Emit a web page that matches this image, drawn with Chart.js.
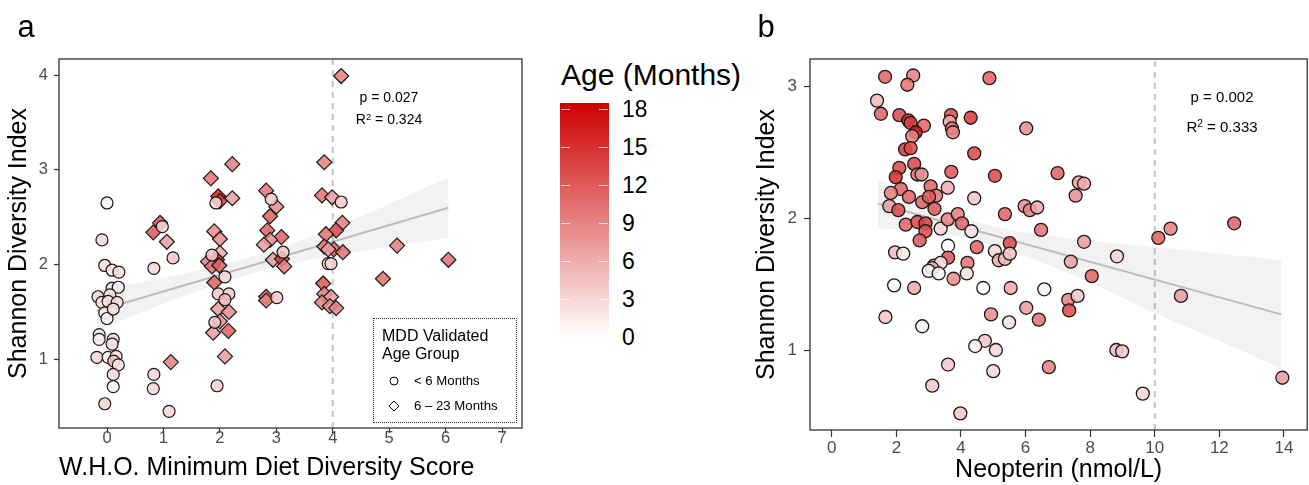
<!DOCTYPE html>
<html>
<head>
<meta charset="utf-8">
<script src="https://cdn.jsdelivr.net/npm/chart.js@4.4.1/dist/chart.umd.min.js"></script>
<style>
html, body { margin: 0; padding: 0; width: 1309px; height: 485px; overflow: hidden; background: #fff; }
body { position: relative; font-family: "Liberation Sans", Arial, Helvetica, sans-serif; color: #000; }
canvas { position: absolute; top: 0; }
#chartA { left: 0; }
#chartB { left: 750px; }
.t { position: absolute; white-space: nowrap; line-height: 1; }
.c { transform: translate(-50%, -50%); }
.l { transform: translate(0, -50%); }
.panel { font-size: 31px; }
.stat sup { font-size: 0.68em; vertical-align: 0.4em; line-height: 0; }
#mddBox { position: absolute; left: 373px; top: 318px; width: 142px; height: 103px; border: 1px dotted #333; }
#cbar { position: absolute; left: 560px; top: 103px; width: 49px; height: 234px; }
.cbtick { position: absolute; width: 9px; height: 1px; background: rgba(255,255,255,0.75); }
</style>
</head>
<body>
<canvas id="chartA" width="540" height="485"></canvas>
<canvas id="chartB" width="565" height="485"></canvas>

<div class="t c panel" style="left:26px;top:26px;">a</div>
<div class="t c panel" style="left:766px;top:26px;">b</div>

<div class="t c stat" style="left:389px;top:97px;font-size:14px;">p = 0.027</div>
<div class="t c stat" style="left:389px;top:119px;font-size:14px;">R<sup>2</sup> = 0.324</div>
<div class="t c stat" style="left:1222px;top:96px;font-size:15px;">p = 0.002</div>
<div class="t c stat" style="left:1222px;top:126px;font-size:15px;">R<sup>2</sup> = 0.333</div>

<div id="mddBox"></div>
<div class="t l" style="left:382px;top:336px;font-size:16px;">MDD Validated</div>
<div class="t l" style="left:382px;top:354px;font-size:16px;">Age Group</div>
<svg class="t" style="left:388px;top:375px;" width="12" height="12"><circle cx="6" cy="6" r="4" fill="#fff" stroke="#000" stroke-width="1"/></svg>
<div class="t l" style="left:414px;top:381px;font-size:13.2px;">&lt; 6 Months</div>
<svg class="t" style="left:388px;top:400px;" width="12" height="12"><polygon points="6,1 11,6 6,11 1,6" fill="#fff" stroke="#000" stroke-width="1"/></svg>
<div class="t l" style="left:414px;top:406px;font-size:13.2px;">6 &ndash; 23 Months</div>

<div class="t l" style="left:561px;top:75px;font-size:30px;">Age (Months)</div>
<div id="cbar"></div>

<script>
var FONT = '"Liberation Sans", Arial, Helvetica, sans-serif';

// age colour scale (white -> red3)
var ageMax = 18.5;
var ageTopRGB = [205, 0, 0];
var cbarTicks = [0, 3, 6, 9, 12, 15, 18];

// panel a: MDD score vs Shannon, < 6 months (circles)
var mddCircX = [0.00, -0.09, -0.04, 0.09, 0.21, -0.16, 0.09, 0.20, 0.05, -0.09, 0.02, 0.18, -0.04, 0.00, 0.11, -0.14, -0.14, 0.11, 0.09, -0.18, 0.02, 0.16, 0.12, 0.20, 0.11, 0.11, -0.04,
	0.98, 1.17, 0.83, 0.83, 0.82, 1.10,
	1.93, 1.86, 2.09, 1.97, 2.16, 2.09, 1.91, 1.95,
	2.91, 3.12, 3.01,
	4.15, 3.92, 3.97];
var mddCircY = [2.65, 2.26, 1.99, 1.94, 1.92, 1.66, 1.75, 1.76, 1.68, 1.60, 1.61, 1.60, 1.49, 1.43, 1.53, 1.26, 1.21, 1.21, 1.16, 1.02, 1.02, 1.03, 0.98, 0.94, 0.84, 0.71, 0.53,
	2.40, 2.07, 1.96, 0.84, 0.69, 0.45,
	2.65, 2.10, 1.87, 1.69, 1.69, 1.63, 1.39, 0.72,
	2.69, 2.13, 1.65,
	2.66, 2.01, 2.01];
var mddCircAge = [1, 3, 2, 2, 2, 3, 2, 1, 2, 2, 2, 3, 1, 1, 2, 2, 1, 3, 2, 3, 1, 2, 5, 2, 3, 1, 3,
	3, 4, 3, 3, 3, 3,
	3, 4, 3, 4, 4, 5, 4, 3,
	4, 4, 4,
	4, 3, 3];

// panel a: 6 - 23 months (diamonds)
var mddDiaX = [0.94, 0.82, 1.06, 1.13,
	2.22, 1.84, 1.97, 2.00, 2.22, 1.90, 2.00, 2.00, 1.79, 1.95, 1.86, 1.99, 1.90, 1.97, 2.16, 2.00, 1.88, 2.15, 2.09,
	2.82, 3.00, 2.89, 2.84, 3.09, 2.89, 2.78, 2.94, 3.10, 3.14, 2.82, 2.82,
	4.15, 3.85, 3.81, 3.99, 4.17, 4.06, 3.88, 3.85, 4.02, 4.18, 3.92, 3.83, 3.85, 3.97, 3.81, 3.95, 4.06,
	5.14, 4.89, 6.05];
var mddDiaY = [2.44, 2.34, 2.24, 0.97,
	3.06, 2.91, 2.72, 2.67, 2.70, 2.35, 2.27, 2.12, 2.03, 2.05, 1.98, 1.99, 1.81, 1.53, 1.50, 1.40, 1.28, 1.30, 1.03,
	2.78, 2.61, 2.51, 2.36, 2.29, 2.26, 2.21, 2.05, 2.06, 1.98, 1.66, 1.62,
	3.99, 3.08, 2.73, 2.71, 2.44, 2.36, 2.32, 2.19, 2.16, 2.13, 2.16, 1.80, 1.69, 1.66, 1.60, 1.56, 1.54,
	2.20, 1.85, 2.05];
var mddDiaAge = [12, 12, 7, 9,
	9, 10, 16, 14, 7, 8, 8, 6, 9, 14, 10, 11, 11, 7, 8, 8, 7, 11, 7,
	10, 8, 11, 11, 11, 8, 7, 7, 14, 9, 11, 9,
	9, 9, 10, 7, 9, 13, 10, 10, 11, 10, 7, 12, 9, 7, 9, 8, 9,
	9, 10, 10];

// panel a: fit + confidence band
var fitAX = [-0.18, 6.05];
var fitAY = [1.51, 2.60];
var bandAX = [-0.18, 0.6, 1.5, 2.6, 3.6, 4.7, 6.05];
var bandALo = [1.29, 1.49, 1.70, 1.91, 2.05, 2.16, 2.28];
var bandAHi = [1.73, 1.81, 1.92, 2.09, 2.29, 2.56, 2.92];
var cutA = 4;
var xTicksA = [0, 1, 2, 3, 4, 5, 6, 7];
var yTicksA = [1, 2, 3, 4];

// panel b: neopterin vs Shannon
var neoX = [1.65, 2.52, 2.34, 4.88, 1.40, 1.52, 2.09, 2.37, 2.44, 2.85,
	2.60, 2.49, 3.69, 3.65, 3.72, 3.75, 4.30, 6.02, 2.27, 2.44,
	4.41, 2.55, 2.09, 1.98, 2.65, 2.78, 3.70, 5.05, 2.14, 1.83,
	2.39, 3.06, 3.59, 3.23, 2.80, 3.01, 4.41, 1.78, 2.06, 3.18,
	5.97, 6.13, 6.36, 5.36, 2.29, 2.65, 2.90, 2.90, 2.72, 3.37,
	3.59, 3.90, 4.03, 4.32, 6.48, 3.60, 4.49, 5.51, 1.96, 2.21,
	5.05, 5.17, 5.36, 5.51, 3.60, 7.55, 7.65, 7.81, 6.99, 7.81,
	10.11, 10.49, 12.46, 7.40, 8.05, 3.16, 3.37, 3.11, 3.00, 3.31,
	4.20, 4.18, 3.77, 1.93, 2.55, 4.69, 5.54, 6.58, 7.32, 7.61,
	7.35, 6.02, 4.93, 1.66, 6.41, 5.49, 2.80, 4.74, 4.44, 5.08,
	3.60, 5.00, 6.72, 3.11, 3.98, 8.83, 10.81, 8.81, 8.99, 9.63,
	13.95];
var neoY = [3.07, 3.08, 3.01, 3.06, 2.89, 2.79, 2.78, 2.74, 2.72, 2.70,
	2.65, 2.62, 2.78, 2.73, 2.68, 2.65, 2.76, 2.68, 2.52, 2.53,
	2.49, 2.41, 2.38, 2.31, 2.33, 2.33, 2.35, 2.32, 2.22, 2.19,
	2.16, 2.24, 2.23, 2.17, 2.12, 2.16, 2.15, 2.09, 2.06, 2.07,
	2.09, 2.06, 2.08, 2.03, 1.95, 1.97, 1.96, 1.90, 1.83, 1.92,
	1.99, 2.03, 1.96, 1.90, 1.91, 1.79, 1.78, 1.81, 1.74, 1.73,
	1.75, 1.68, 1.69, 1.73, 1.70, 2.17, 2.27, 2.26, 2.34, 1.82,
	1.85, 1.92, 1.96, 1.67, 1.56, 1.64, 1.66, 1.62, 1.60, 1.58,
	1.66, 1.58, 1.54, 1.49, 1.47, 1.47, 1.47, 1.46, 1.38, 1.41,
	1.30, 1.32, 1.27, 1.25, 1.23, 1.21, 1.18, 1.07, 1.03, 1.00,
	0.89, 0.84, 0.87, 0.73, 0.52, 1.71, 1.41, 1.00, 0.99, 0.67,
	0.79];
var neoAge = [11, 9, 10, 11, 5, 11, 13, 15, 14, 11,
	17, 9, 13, 6, 10, 9, 14, 8, 14, 13,
	13, 13, 13, 15, 10, 8, 12, 13, 11, 9,
	11, 11, 6, 10, 11, 12, 4, 7, 13, 12,
	8, 9, 6, 11, 11, 13, 14, 13, 12, 3,
	9, 9, 11, 2, 10, 0, 11, 13, 5, 1,
	3, 6, 5, 4, 12, 8, 7, 6, 11, 7,
	11, 9, 11, 7, 11, 6, 2, 5, 1, 1,
	10, 2, 8, 0, 6, 0, 6, 1, 9, 4,
	13, 7, 8, 4, 10, 2, 1, 4, 1, 3,
	4, 3, 9, 4, 4, 3, 7, 5, 4, 3,
	7];

// panel b: fit + confidence band
var fitBX = [1.42, 13.92];
var fitBY = [2.11, 1.27];
var bandBX = [1.42, 3, 4.5, 6, 8, 10, 12, 13.92];
var bandBLo = [1.92, 1.90, 1.83, 1.71, 1.51, 1.28, 1.07, 0.86];
var bandBHi = [2.30, 2.10, 1.97, 1.89, 1.83, 1.78, 1.73, 1.68];
var cutB = 10;
var xTicksB = [0, 2, 4, 6, 8, 10, 12, 14];
var yTicksB = [1, 2, 3];

function ageColor(a, alpha) {
	var t = Math.max(0, Math.min(1, a / ageMax));
	var r = Math.round(255 + (ageTopRGB[0] - 255) * t);
	var g = Math.round(255 + (ageTopRGB[1] - 255) * t);
	var b = Math.round(255 + (ageTopRGB[2] - 255) * t);
	return 'rgba(' + r + ',' + g + ',' + b + ',' + (alpha == null ? 1 : alpha) + ')';
}

function pts(xs, ys) {
	return xs.map(function(x, i) { return { x: x, y: ys[i] }; });
}

// draw the full panel box
var boxPlugin = {
	id: 'box',
	afterDatasetsDraw: function(chart) {
		var a = chart.chartArea, c = chart.ctx;
		c.save();
		c.strokeStyle = '#333';
		c.lineWidth = 1.3;
		c.strokeRect(a.left, a.top, a.right - a.left, a.bottom - a.top);
		c.restore();
	}
};

function fixedTicks(list) {
	return function(scale) { scale.ticks = list.map(function(v) { return { value: v }; }); };
}

function makeScales(o) {
	return {
		x: {
			type: 'linear', min: o.xMin, max: o.xMax,
			afterBuildTicks: fixedTicks(o.xTicks),
			afterFit: function(s) { s.height = o.xH; },
			border: { display: false },
			grid: { drawOnChartArea: false, drawTicks: true, tickLength: o.xTick, tickColor: '#333', tickWidth: 1.2 },
			ticks: { color: '#4d4d4d', font: { size: o.tickFont, family: FONT, lineHeight: 1 }, padding: o.xPad, maxRotation: 0, autoSkip: false,
				callback: function(v) { return String(v); } },
			title: { display: true, text: o.xTitle, align: o.xAlign, color: '#000', font: { size: 25, family: FONT }, padding: { top: 0, bottom: o.xTitlePad } }
		},
		y: {
			type: 'linear', min: o.yMin, max: o.yMax,
			afterBuildTicks: fixedTicks(o.yTicks),
			afterFit: function(s) { s.width = o.yW; },
			border: { display: false },
			grid: { drawOnChartArea: false, drawTicks: true, tickLength: o.yTick, tickColor: '#333', tickWidth: 1.2 },
			ticks: { color: '#4d4d4d', font: { size: o.tickFont, family: FONT }, padding: o.yPad, autoSkip: false,
				callback: function(v) { return String(v); } },
			title: { display: true, text: 'Shannon Diversity Index', color: '#000', font: { size: 25, family: FONT }, padding: { top: o.yTitlePad, bottom: 0 } }
		}
	};
}

function lineSets(fitX, fitY, bandX, bandLo, bandHi, cut, yMin, yMax) {
	return [
		{ type: 'line', data: pts(fitX, fitY), borderColor: '#bdbdbd', borderWidth: 2, pointRadius: 0, order: 1 },
		{ type: 'line', data: pts(bandX, bandHi), borderWidth: 0, borderColor: 'rgba(0,0,0,0)', pointRadius: 0,
			fill: '+1', backgroundColor: 'rgba(150,150,150,0.12)', cubicInterpolationMode: 'monotone', order: 2 },
		{ type: 'line', data: pts(bandX, bandLo), borderWidth: 0, borderColor: 'rgba(0,0,0,0)', pointRadius: 0,
			fill: false, cubicInterpolationMode: 'monotone', order: 2 },
		{ type: 'line', data: pts([cut, cut], [yMin, yMax]), borderColor: '#c2c2c2', borderWidth: 2,
			borderDash: [6, 5], pointRadius: 0, order: 3 }
	];
}

var common = {
	responsive: false,
	animation: false,
	events: [],
	plugins: { legend: { display: false }, tooltip: { enabled: false } }
};

// panel a
var yMinA = 0.274, yMaxA = 4.17;
new Chart(document.getElementById('chartA'), {
	type: 'scatter',
	data: {
		datasets: [
			{ data: pts(mddCircX, mddCircY), pointStyle: 'circle', pointRadius: 6,
				backgroundColor: mddCircAge.map(function(a) { return ageColor(a, 0.88); }),
				borderColor: '#1a1a1a', borderWidth: 1.2, order: 0 },
			{ data: pts(mddDiaX, mddDiaY), pointStyle: 'rectRot', pointRadius: 7.5,
				backgroundColor: mddDiaAge.map(function(a) { return ageColor(a, 0.88); }),
				borderColor: '#1a1a1a', borderWidth: 1.2, order: 0 }
		].concat(lineSets(fitAX, fitAY, bandAX, bandALo, bandAHi, cutA, yMinA, yMaxA))
	},
	options: Object.assign({}, common, {
		layout: { padding: { top: 59, right: 18, left: 0, bottom: 0 } },
		scales: makeScales({
			xMin: -0.851, xMax: 7.354, yMin: yMinA, yMax: yMaxA,
			xTicks: xTicksA, yTicks: yTicksA, xH: 57, yW: 59,
			xTick: 5, yTick: 5, xPad: -3, yPad: 6, tickFont: 16.5,
			xTitle: 'W.H.O. Minimum Diet Diversity Score', xAlign: 'start', xTitlePad: 2, yTitlePad: 4
		})
	}),
	plugins: [boxPlugin]
});

// panel b
var yMinB = 0.394, yMaxB = 3.205;
new Chart(document.getElementById('chartB'), {
	type: 'scatter',
	data: {
		datasets: [
			{ data: pts(neoX, neoY), pointStyle: 'circle', pointRadius: 6.5,
				backgroundColor: neoAge.map(function(a) { return ageColor(a, 0.88); }),
				borderColor: '#1a1a1a', borderWidth: 1.3, order: 0 }
		].concat(lineSets(fitBX, fitBY, bandBX, bandBLo, bandBHi, cutB, yMinB, yMaxB))
	},
	options: Object.assign({}, common, {
		layout: { padding: { top: 59, right: 3, left: 0, bottom: 0 } },
		scales: makeScales({
			xMin: -0.675, xMax: 14.72, yMin: yMinB, yMax: yMaxB,
			xTicks: xTicksB, yTicks: yTicksB, xH: 55, yW: 60,
			xTick: 7, yTick: 6, xPad: 3, yPad: 7, tickFont: 17,
			xTitle: 'Neopterin (nmol/L)', xAlign: 'center', xTitlePad: 0, yTitlePad: 2
		})
	}),
	plugins: [boxPlugin]
});

// colour bar legend
(function() {
	var bar = document.getElementById('cbar');
	var stops = [];
	for (var i = 0; i <= 10; i++) {
		stops.push(ageColor(ageMax * (10 - i) / 10) + ' ' + (i * 10) + '%');
	}
	bar.style.background = 'linear-gradient(to bottom, ' + stops.join(', ') + ')';
	var top = 103, h = 234;
	cbarTicks.forEach(function(v) {
		var y = top + h - v / ageMax * h;
		var lab = document.createElement('div');
		lab.className = 't l';
		lab.style.left = '622px';
		lab.style.top = y + 'px';
		lab.style.fontSize = '23px';
		lab.textContent = String(v);
		document.body.appendChild(lab);
		[561, 599].forEach(function(x) {
			var tk = document.createElement('div');
			tk.className = 'cbtick';
			tk.style.left = x + 'px';
			tk.style.top = Math.round(y) + 'px';
			document.body.appendChild(tk);
		});
	});
})();
</script>
</body>
</html>
